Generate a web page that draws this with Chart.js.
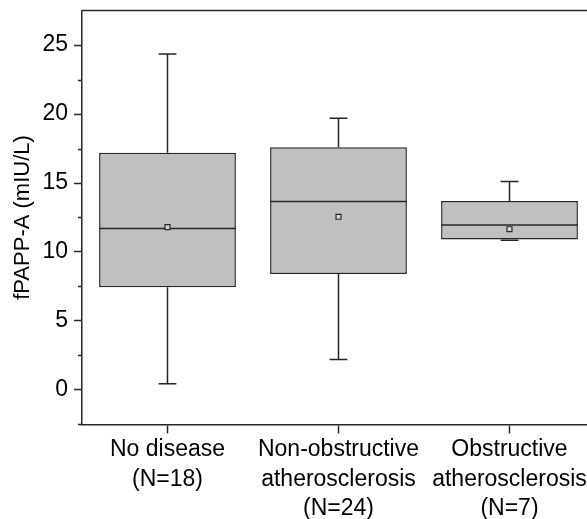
<!DOCTYPE html>
<html>
<head>
<meta charset="utf-8">
<script src="https://cdn.jsdelivr.net/npm/chart.js@4/dist/chart.umd.min.js"></script>
<style>
  html, body { margin: 0; padding: 0; background: #fff; overflow: hidden; }
  #wrap { width: 587px; height: 519px; overflow: hidden; }
</style>
</head>
<body>
<div id="wrap"><canvas id="boxChart" width="610" height="519"></canvas></div>
<script>
// Group labels (multi-line)
const groups = [
    ['No disease', '(N=18)'],
    ['Non-obstructive', 'atherosclerosis', '(N=24)'],
    ['Obstructive', 'atherosclerosis', '(N=7)']
];

// fPAPP-A box statistics per group (mIU/L)
const whiskerLow = [0.45, 2.2, 10.85];
const q1 = [7.45, 8.4, 10.9];
const median = [11.7, 13.65, 11.95];
const q3 = [17.2, 17.6, 13.7];
const whiskerHigh = [24.35, 19.7, 15.1];
const mean = [11.8, 12.55, 11.65];

// y axis
const yMin = -2.5;
const yMax = 27.5;
const yTicks = [0, 5, 10, 15, 20, 25];

const lineColor = '#262626';
const fontFamily = "'Liberation Sans', Arial, sans-serif";

// whiskers, medians, minor ticks and the top frame line
const boxExtras = {
    id: 'boxExtras',
    afterDatasetDraw(chart, args) {
        if (args.meta.type !== 'bar') return;
        const ctx = chart.ctx;
        const y = chart.scales.y;
        ctx.save();
        ctx.strokeStyle = lineColor;
        ctx.lineWidth = 1.5;
        args.meta.data.forEach((bar, i) => {
            const half = bar.width / 2;
            const cap = bar.width * 0.065;
            const yMed = y.getPixelForValue(median[i]);
            const yQ1 = y.getPixelForValue(q1[i]);
            const yQ3 = y.getPixelForValue(q3[i]);
            const yLo = y.getPixelForValue(whiskerLow[i]);
            const yHi = y.getPixelForValue(whiskerHigh[i]);
            ctx.beginPath();
            // median
            ctx.moveTo(bar.x - half, yMed);
            ctx.lineTo(bar.x + half, yMed);
            // upper whisker
            ctx.moveTo(bar.x, yQ3);
            ctx.lineTo(bar.x, yHi);
            ctx.moveTo(bar.x - cap, yHi);
            ctx.lineTo(bar.x + cap, yHi);
            // lower whisker
            ctx.moveTo(bar.x, yQ1);
            ctx.lineTo(bar.x, yLo);
            ctx.moveTo(bar.x - cap, yLo);
            ctx.lineTo(bar.x + cap, yLo);
            ctx.stroke();
        });
        ctx.restore();
    },
    afterDraw(chart) {
        const ctx = chart.ctx;
        const area = chart.chartArea;
        const y = chart.scales.y;
        ctx.save();
        ctx.strokeStyle = lineColor;
        ctx.lineWidth = 1.5;
        ctx.beginPath();
        ctx.moveTo(area.left, area.top);
        ctx.lineTo(area.right, area.top);
        ctx.lineTo(area.right, area.bottom);
        // short minor ticks halfway between the labelled ones
        for (let v = yMin; v < yMax; v += 5) {
            const py = Math.round(y.getPixelForValue(v)) + 0.5;
            ctx.moveTo(area.left - 4, py);
            ctx.lineTo(area.left, py);
        }
        ctx.stroke();
        ctx.restore();
    }
};

new Chart(document.getElementById('boxChart'), {
    data: {
        labels: groups,
        datasets: [{
            type: 'line',
            label: 'Mean',
            data: mean,
            showLine: false,
            pointStyle: 'rect',
            pointRadius: 3.5,
            pointBorderWidth: 1.2,
            pointBackgroundColor: '#d8d8d8',
            pointBorderColor: lineColor,
            order: 0
        }, {
            type: 'bar',
            label: 'IQR',
            data: q1.map((v, i) => [v, q3[i]]),
            backgroundColor: '#c0c0c0',
            borderColor: lineColor,
            borderWidth: 1.5,
            borderSkipped: false,
            barPercentage: 0.8,
            categoryPercentage: 1,
            order: 1
        }]
    },
    options: {
        responsive: false,
        animation: false,
        layout: {
            padding: { top: 6, right: 15, left: 0, bottom: -6 }
        },
        plugins: {
            legend: { display: false },
            tooltip: { enabled: false }
        },
        scales: {
            x: {
                offset: true,
                grid: {
                    offset: false,
                    drawOnChartArea: false,
                    tickLength: 9,
                    tickWidth: 1.5,
                    tickColor: lineColor
                },
                border: { color: lineColor, width: 1.5 },
                ticks: {
                    color: '#000',
                    maxRotation: 0,
                    autoSkip: false,
                    padding: 2,
                    font: { family: fontFamily, size: 23, lineHeight: 1.27 }
                }
            },
            y: {
                min: yMin,
                max: yMax,
                afterBuildTicks: scale => {
                    scale.ticks = yTicks.map(v => ({ value: v }));
                },
                grid: {
                    drawOnChartArea: false,
                    tickLength: 8,
                    tickWidth: 1.5,
                    tickColor: lineColor
                },
                border: { color: lineColor, width: 1.5 },
                ticks: {
                    color: '#000',
                    padding: 6,
                    font: { family: fontFamily, size: 23, lineHeight: 0.4 }
                },
                title: {
                    display: true,
                    text: 'fPAPP-A (mIU/L)',
                    color: '#000',
                    font: { family: fontFamily, size: 22 },
                    padding: { top: 10, bottom: 0 }
                }
            }
        }
    },
    plugins: [boxExtras]
});
</script>
</body>
</html>
